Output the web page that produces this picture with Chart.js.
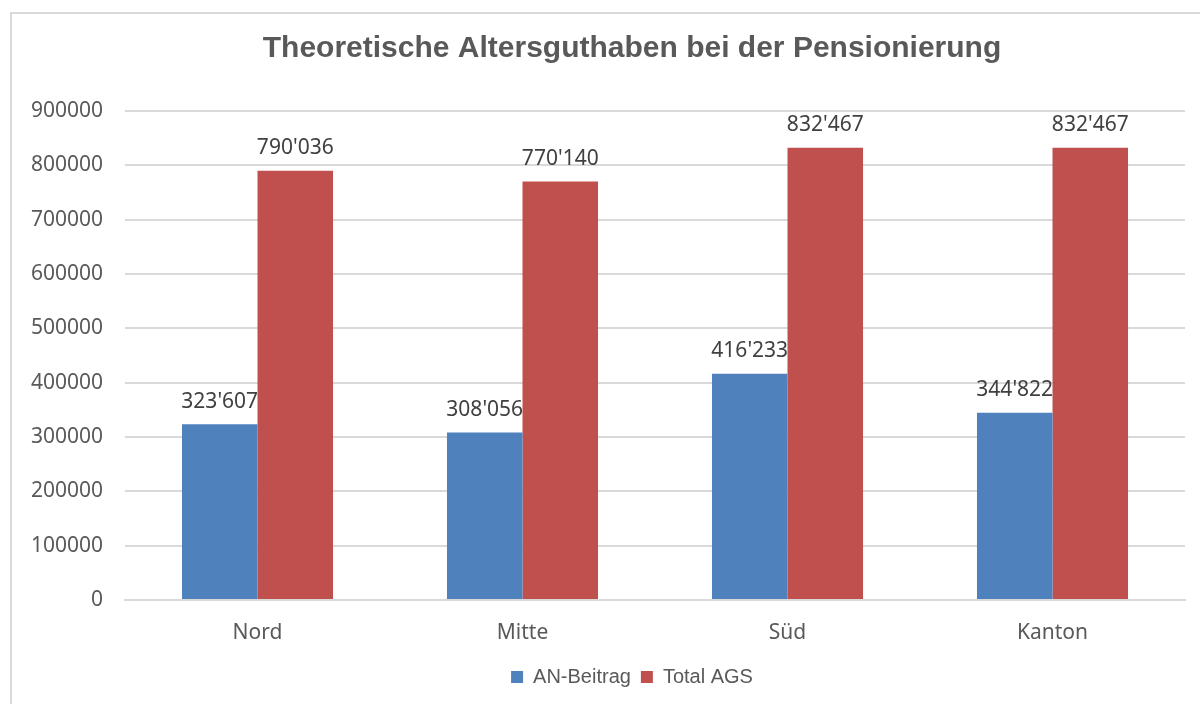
<!DOCTYPE html>
<html>
<head>
<meta charset="utf-8">
<script src="https://cdn.jsdelivr.net/npm/chart.js@4"></script>
<style>
  html, body { margin: 0; padding: 0; background: #fff; overflow: hidden; }
  #frame { position: absolute; left: 10px; top: 12px; width: 1270px; height: 720px;
           border: 2px solid #d9d9d9; box-sizing: border-box; }
  #wrap { position: absolute; left: 0; top: 0; width: 1266px; height: 690px; }
</style>
</head>
<body>
<div id="frame"><div id="wrap"><canvas id="chart"></canvas></div></div>
<script>
// --- data ---
const regionen = ["Nord", "Mitte", "Süd", "Kanton"];
const anBeitrag = [323607, 308056, 416233, 344822];
const totalAgs = [790036, 770140, 832467, 832467];

// Zahlen im Stil 790'036
const fmt = v => String(v).replace(/\B(?=(\d{3})+(?!\d))/g, "'");

// Werte über den Balken
const labelPlugin = {
  id: "wertLabels",
  afterDatasetsDraw(chart) {
    const ctx = chart.ctx;
    ctx.save();
    ctx.font = "21px 'Noto Sans', sans-serif";
    ctx.fillStyle = "#404040";
    ctx.textAlign = "center";
    ctx.textBaseline = "bottom";
    chart.data.datasets.forEach((ds, i) => {
      chart.getDatasetMeta(i).data.forEach((bar, j) => {
        ctx.fillText(fmt(ds.data[j]), bar.x, bar.y - 12);
      });
    });
    ctx.restore();
  }
};

new Chart(document.getElementById("chart"), {
  type: "bar",
  data: {
    labels: regionen,
    datasets: [
      { label: "AN-Beitrag", data: anBeitrag, backgroundColor: "#4f81bd" },
      { label: "Total AGS", data: totalAgs, backgroundColor: "#c0504d" }
    ]
  },
  options: {
    responsive: true,
    maintainAspectRatio: false,
    animation: false,
    categoryPercentage: 0.57,
    barPercentage: 1.0,
    layout: { padding: { left: 0, right: 26, top: 0, bottom: 7 } },
    plugins: {
      title: {
        display: true,
        text: "Theoretische Altersguthaben bei der Pensionierung",
        color: "#595959",
        font: { family: "'Liberation Sans', Arial, sans-serif", size: 30, weight: "bold" },
        padding: { top: 17, bottom: 44 }
      },
      legend: {
        position: "bottom",
        labels: {
          color: "#595959",
          boxWidth: 12,
          boxHeight: 12,
          padding: 10,
          font: { family: "'Liberation Sans', Arial, sans-serif", size: 20 }
        }
      },
      tooltip: { enabled: false }
    },
    scales: {
      x: {
        grid: { display: false },
        border: { color: "#d9d9d9", width: 2 },
        ticks: { color: "#595959", padding: 12, font: { family: "'Noto Sans', sans-serif", size: 21 } },
        afterFit(scale) { scale.height = 57; }
      },
      y: {
        min: 0,
        max: 900000,
        ticks: { stepSize: 100000, color: "#595959", padding: 22,
                 callback: v => String(v),
                 font: { family: "'Noto Sans', sans-serif", size: 21 } },
        grid: { color: "#d9d9d9", lineWidth: 2, drawTicks: false },
        border: { display: false },
        afterFit(scale) { scale.width = 113; }
      },
      // leere Achse rechts, damit Titel mittig über dem ganzen Rahmen steht
      rechts: {
        type: "linear",
        position: "right",
        display: true,
        grid: { display: false },
        border: { display: false },
        ticks: { display: false },
        afterFit(scale) { scale.width = 67; }
      }
    }
  },
  plugins: [labelPlugin]
});
</script>
</body>
</html>
